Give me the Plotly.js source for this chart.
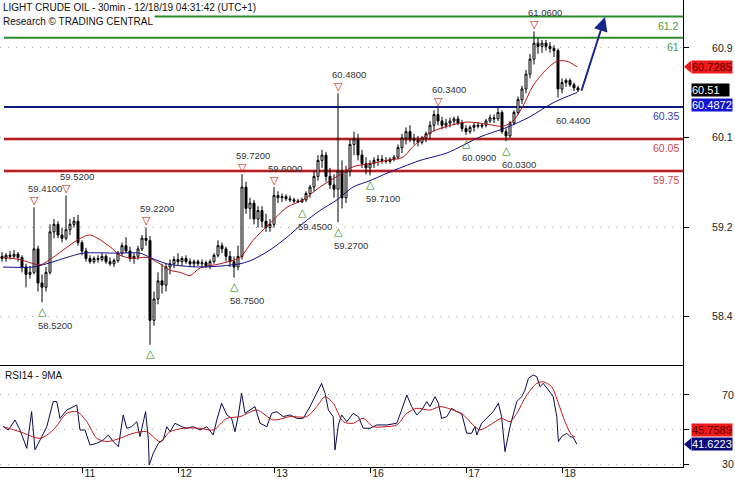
<!DOCTYPE html>
<html><head><meta charset="utf-8">
<script src="https://cdn.plot.ly/plotly-3.0.1.min.js"></script>
<style>html,body{margin:0;padding:0;background:#fff}#chart{width:735px;height:480px}</style>
</head><body><div id="chart"></div>
<script>
// ---- time axis (hours relative to Dec 11 00:00, weekend removed) ----
const firstBarHour = -20;
const dayTickHours = [0, 24, 48, 72, 96, 120];
const dayTickLabels = ['11', '12', '13', '16', '17', '18'];

// ---- hourly OHLC ----
const openP = [58.95,58.93,58.96,58.95,58.97,58.94,58.85,58.78,58.80,59.02,58.70,58.66,58.80,59.18,59.25,59.15,59.12,59.20,59.25,59.28,
59.08,59.00,58.93,58.90,58.93,58.92,58.95,58.90,58.88,58.91,58.98,59.05,59.00,58.93,58.95,59.02,59.12,59.10,58.35,58.55,
58.72,58.68,58.85,58.88,58.92,58.90,58.93,58.90,58.88,58.90,58.88,58.89,58.86,58.90,58.96,59.05,59.02,58.95,58.90,58.85,
58.95,59.60,59.40,59.45,59.30,59.38,59.28,59.22,59.25,59.52,59.50,59.51,59.49,59.48,59.47,59.46,59.48,59.54,59.60,59.70,
59.85,59.90,59.70,59.62,59.58,59.75,59.50,59.75,60.00,60.05,59.90,59.82,59.78,59.82,59.85,59.86,59.85,59.84,59.86,59.88,
59.97,60.06,60.12,60.05,60.04,60.02,60.06,60.10,60.18,60.28,60.22,60.18,60.20,60.22,60.24,60.20,60.15,60.12,60.16,60.18,
60.17,60.18,60.22,60.25,60.24,60.30,60.12,60.08,60.20,60.30,60.42,60.52,60.66,60.80,60.95,60.92,60.95,60.92,60.90,60.88,
60.52,60.58,60.60,60.56,60.53];
const highP = [58.99,58.98,59.00,59.01,58.99,58.96,58.88,58.86,59.41,59.05,58.78,58.85,59.25,59.30,59.28,59.22,59.52,59.30,59.32,59.34,
59.10,59.03,58.96,58.95,58.96,58.98,58.97,58.94,58.93,59.00,59.08,59.13,59.04,58.98,59.05,59.15,59.22,59.14,58.62,58.80,
58.88,58.88,58.92,58.95,58.98,58.95,58.96,58.93,58.92,58.92,58.92,58.91,58.92,58.98,59.10,59.08,59.04,59.00,58.95,59.05,
59.72,59.65,59.50,59.48,59.42,59.42,59.35,59.30,59.60,59.56,59.54,59.53,59.52,59.50,59.49,59.50,59.56,59.62,59.75,59.90,
59.95,59.93,59.78,59.72,60.48,59.85,59.80,60.05,60.12,60.10,59.95,59.88,59.85,59.88,59.90,59.90,59.88,59.88,59.90,60.00,
60.10,60.16,60.18,60.10,60.08,60.08,60.12,60.22,60.32,60.34,60.26,60.24,60.25,60.26,60.27,60.23,60.18,60.18,60.20,60.21,
60.20,60.24,60.28,60.28,60.35,60.32,60.15,60.22,60.32,60.45,60.55,60.70,60.85,61.06,61.00,60.98,60.98,60.96,60.93,60.90,
60.62,60.62,60.62,60.58,60.55];
const lowP = [58.90,58.90,58.92,58.93,58.90,58.80,58.66,58.74,58.78,58.62,58.52,58.62,58.78,59.12,59.12,59.08,59.10,59.15,59.22,59.05,
58.96,58.90,58.88,58.88,58.89,58.90,58.88,58.86,58.85,58.89,58.95,58.98,58.90,58.88,58.92,59.00,59.05,58.12,58.30,58.50,
58.60,58.62,58.78,58.84,58.86,58.86,58.88,58.85,58.85,58.86,58.84,58.84,58.83,58.88,58.94,58.98,58.90,58.85,58.75,58.82,
58.92,59.35,59.30,59.25,59.22,59.22,59.18,59.18,59.22,59.45,59.46,59.47,59.46,59.45,59.45,59.45,59.46,59.50,59.56,59.66,
59.78,59.65,59.58,59.50,59.27,59.40,59.45,59.70,59.90,59.85,59.78,59.72,59.71,59.78,59.80,59.82,59.82,59.82,59.84,59.86,
59.92,60.00,60.02,60.00,59.98,60.00,60.02,60.05,60.12,60.18,60.14,60.15,60.16,60.18,60.18,60.12,60.09,60.10,60.12,60.15,
60.15,60.16,60.20,60.20,60.22,60.10,60.03,60.06,60.18,60.28,60.38,60.48,60.62,60.75,60.85,60.86,60.88,60.86,60.82,60.44,
60.48,60.54,60.54,60.50,60.49];
const closeP = [58.93,58.96,58.95,58.97,58.94,58.85,58.78,58.80,59.02,58.70,58.66,58.80,59.18,59.25,59.15,59.12,59.20,59.25,59.28,59.08,
59.00,58.93,58.90,58.93,58.92,58.95,58.90,58.88,58.91,58.98,59.05,59.00,58.93,58.95,59.02,59.12,59.10,58.35,58.55,58.72,
58.68,58.85,58.88,58.92,58.90,58.93,58.90,58.88,58.90,58.88,58.89,58.86,58.90,58.96,59.05,59.02,58.95,58.90,58.85,58.95,
59.60,59.40,59.45,59.30,59.38,59.28,59.22,59.25,59.52,59.50,59.51,59.49,59.48,59.47,59.46,59.48,59.54,59.60,59.70,59.85,
59.90,59.70,59.62,59.58,59.75,59.50,59.75,60.00,60.05,59.90,59.82,59.78,59.82,59.85,59.86,59.85,59.84,59.86,59.88,59.97,
60.06,60.12,60.05,60.04,60.02,60.06,60.10,60.18,60.28,60.22,60.18,60.20,60.22,60.24,60.20,60.15,60.12,60.16,60.18,60.17,
60.18,60.22,60.25,60.24,60.30,60.12,60.08,60.20,60.30,60.42,60.52,60.66,60.80,60.95,60.92,60.95,60.92,60.90,60.88,60.52,
60.58,60.60,60.56,60.53,60.51];

// ---- moving averages (traced) ----
const maFastHours = [-19.75,-15.5,-10.5,-8,-1.25,2,7,9.5,12.75,16.25,19.5,22,24.5,27,29.5,34.5,39.5,42.75,47,51.25,55.25,59.5,63.75,67.75,72,76.25,80.25,82.75,87,91.25,96.25,101.25,105.25,107.75,110.25,112.75,116.25,118.75,121.25,123.75];
const maFastVals = [58.94,58.92,58.87,58.92,59.10,59.15,59.04,58.96,58.93,58.94,58.88,58.82,58.80,58.77,58.84,58.88,58.94,59.10,59.26,59.41,59.48,59.60,59.70,59.79,59.82,59.85,59.88,59.98,60.11,60.17,60.21,60.19,60.17,60.22,60.36,60.55,60.71,60.78,60.78,60.7285];
const maSlowHours = [-19.75,-12.25,-8,-3.75,0.25,8.75,14.5,17,21.25,29.5,39.5,42.75,47,51.25,55.25,59.5,63.75,67.75,72,76.25,80.25,84.5,91.25,99.5,106.25,112,117.75,123.75];
const maSlowVals = [58.85,58.85,58.89,58.94,58.98,58.98,58.98,58.94,58.88,58.85,58.88,58.92,59.01,59.13,59.26,59.38,59.48,59.60,59.66,59.73,59.79,59.85,59.92,60.07,60.16,60.26,60.39,60.4872];

// ---- RSI14 and its 9MA (traced) ----
const rsiHours = [-19.7,-18.4,-16.75,-15.5,-13.8,-12.6,-11.75,-10.5,-8.8,-7.2,-6.3,-5.5,-3.8,-1.3,-0.5,0.75,2,3.7,5.3,6.6,7.8,9.1,10.3,11.2,12.4,13.7,14.5,15.9,16.6,16.8,17.8,19.1,20.3,21.2,22,23.25,24.9,26.2,27.8,29.5,31.2,32.8,33.7,34.9,36.2,37.4,38.25,39.1,39.9,40.75,42,43.25,44.5,46.2,47.4,48.7,50.3,52,53.7,55.3,57,58.7,59.9,60.75,61.6,62.8,63.25,64.1,64.9,66.2,67.8,69.1,70.3,72,73.7,76.2,78.7,79.9,81.2,82.4,83.7,84.9,86.2,87,88.25,89.1,89.9,91.2,92.4,93.7,94.9,96.2,97.4,98.25,98.7,99.9,101.6,102.8,104.1,104.9,105.75,107,108.7,109.9,110.75,111.6,112.8,113.7,114.5,115.3,116.6,117.8,118.7,119.1,119.9,121.2,122,122.8,123.7];
const rsiVals = [51.7,49.8,55.6,49.8,39.2,60.4,38.3,44.0,51.7,66.2,66.2,56.5,61.3,64.2,49.8,49.8,41.1,42.1,44.0,46.9,43.1,40.2,58.5,50.8,51.7,54.6,46.0,60.4,44.0,29.6,36.3,42.1,44.0,51.7,48.8,53.7,51.7,50.8,51.7,49.8,51.7,46.9,55.6,65.2,58.5,56.5,48.8,58.5,71.0,59.4,61.3,63.3,53.7,51.7,59.4,60.4,57.5,58.5,56.5,56.5,63.3,71.0,76.7,71.0,61.3,57.5,38.3,52.7,58.5,54.6,59.4,57.5,50.8,50.8,52.7,52.7,53.7,61.3,70.0,63.3,58.5,61.3,66.2,63.3,69.0,65.2,56.5,57.5,62.3,60.4,59.4,47.9,47.9,51.7,46.9,53.7,57.5,60.4,65.2,57.5,37.3,51.7,66.2,69.0,72.9,79.6,81.5,80.6,74.8,76.7,72.9,69.0,57.5,43.1,46.0,47.9,46.0,45.6,41.6223];
const rsiMaHours = [-19.7,-15.5,-10.5,-7.2,-3.8,-1.3,1.2,3.7,6.2,9.5,12.8,16.2,19.5,22,25.3,29.5,32.8,36.2,39.5,43.7,47.8,52,56.2,58.7,60.75,62.8,65.3,67.8,70.3,72.8,75.8,78.7,81.2,83.7,87,89.5,92.8,95.3,97.8,99.5,102,104.9,107,108.7,111.2,113.7,115.3,117.4,119.1,120.75,122.4,123.3];
const rsiMaVals = [51.7,48.8,45.0,49.8,59.4,60.4,54.6,45.0,43.1,45.0,47.9,48.8,43.1,48.8,50.8,50.8,49.8,56.5,57.5,61.3,55.6,57.5,57.5,63.3,69.0,65.2,54.6,53.7,56.5,51.7,51.7,52.7,59.4,62.3,61.3,63.3,61.3,58.5,52.7,49.8,52.7,56.5,54.6,59.4,70.0,76.7,77.6,74.8,65.2,54.6,46.9,45.7589];

// ---- support / resistance levels ----
const levelValues = [61.2, 61.0, 60.35, 60.05, 59.75];
const levelText = ['61.2', '61', '60.35', '60.05', '59.75'];
const levelKind = ['res', 'res', 'pivot', 'sup', 'sup'];

// ---- pivot markers ----
const pivotHours = [-12, -10, -4, 16, 17, 38, 40, 48, 55, 64, 64, 72, 89, 96, 106, 113, 119];
const pivotPrices = [59.41, 58.52, 59.52, 59.22, 58.12, 58.75, 59.72, 59.60, 59.45, 60.48, 59.27, 59.71, 60.34, 60.09, 60.03, 61.06, 60.44];
const pivotKind = ['H','L','H','H','L','L','H','H','L','H','L','L','H','L','L','H','L'];
const pivotText = ['59.4100','58.5200','59.5200','59.2200','','58.7500','59.7200','59.6000','59.4500','60.4800','59.2700','59.7100','60.3400','60.0900','60.0300','61.0600','60.4400'];
const pivotMarker = [1,1,1,1,1,1,1,1,1,1,1,1,1,1,1,1,0];

// ---- axis ticks ----
const priceTickVals = [58.385, 59.225, 60.065, 60.905];
const priceTickText = ['58.4', '59.2', '60.1', '60.9'];
const rsiTickVals = [30, 50, 70];
const rsiTickText = ['30', '', '70'];   // the 50 label sits under the RSI-MA value box

// ---- current values ----
const lastClose = 60.51;
const lastMaFast = 60.7285, lastMaSlow = 60.4872;
const lastRsiMa = 45.7589, lastRsi = 41.6223;
const arrowFrom = [124.75, 60.49], arrowTo = [130.75, 61.195];

const barHours = openP.map((_, i) => firstBarHour + i);
const FONT = 'Liberation Sans, Arial, sans-serif';

const traces = [
  {type:'candlestick', x:barHours, open:openP, high:highP, low:lowP, close:closeP, xaxis:'x', yaxis:'y',
   increasing:{line:{color:'#000', width:1}, fillcolor:'#ffffff'},
   decreasing:{line:{color:'#000', width:1}, fillcolor:'#000000'},
   whiskerwidth:0, hoverinfo:'skip'},
  {type:'scatter', mode:'lines', x:maFastHours, y:maFastVals, xaxis:'x', yaxis:'y',
   line:{color:'#b41414', width:1, shape:'spline', smoothing:0.8}, hoverinfo:'skip'},
  {type:'scatter', mode:'lines', x:maSlowHours, y:maSlowVals, xaxis:'x', yaxis:'y',
   line:{color:'#10108c', width:1, shape:'spline', smoothing:0.8}, hoverinfo:'skip'},
  {type:'scatter', mode:'lines', x:rsiHours, y:rsiVals, xaxis:'x', yaxis:'y2',
   line:{color:'#0a0a50', width:1}, hoverinfo:'skip'},
  {type:'scatter', mode:'lines', x:rsiMaHours, y:rsiMaVals, xaxis:'x', yaxis:'y2',
   line:{color:'#c01818', width:1, shape:'spline', smoothing:0.8}, hoverinfo:'skip'}
];

const levelColor = {res:'#2e8b2e', pivot:'#0c1a80', sup:'#b22222'};
const levelTextColor = {res:'#4a9a4a', pivot:'#3a3aa0', sup:'#d04848'};
const shapes = [];
const annotations = [];
levelValues.forEach((v, i) => {
  const k = levelKind[i];
  if (k === 'sup') {
    shapes.push({type:'line', xref:'x', yref:'y', x0:firstBarHour + 0.5, x1:150.25, y0:v, y1:v, layer:'below',
      line:{color:'#f2b4b4', width:4}});
  }
  shapes.push({type:'line', xref:'x', yref:'y', x0:firstBarHour + 0.5, x1:150.25, y0:v, y1:v, layer:'below',
    line:{color:levelColor[k], width:2}});
  annotations.push({xref:'paper', yref:'y', x:1, y:v, xanchor:'right', yanchor:'top', xshift:-2, yshift:-1,
    text:levelText[i], showarrow:false, font:{family:FONT, size:10.5, color:levelTextColor[k]}});
});

pivotHours.forEach((h, i) => {
  const hi = pivotKind[i] === 'H';
  if (pivotMarker[i]) {
    annotations.push({xref:'x', yref:'y', x:h, y:pivotPrices[i], text: hi ? '▽' : '△', showarrow:false,
      yanchor:'middle', xanchor:'center', yshift: hi ? 7 : -9,
      font:{family:'DejaVu Sans', size:11, color: hi ? '#d02020' : '#208a20'}});
  }
  if (pivotText[i]) {
    annotations.push({xref:'x', yref:'y', x:h, y:pivotPrices[i], text:pivotText[i], showarrow:false,
      yanchor:'middle', xanchor:'center', yshift: hi ? 19 : -23, xshift: hi ? 11 : (pivotMarker[i] ? 13 : 15),
      font:{family:FONT, size:9.5, color:'#333'}});
  }
});

// titles
annotations.push({xref:'paper', yref:'paper', x:0, y:1, xanchor:'left', yanchor:'top', xshift:1, yshift:0,
  text:'LIGHT CRUDE OIL - 30min - 12/18/19 04:31:42 (UTC+1)', showarrow:false, bgcolor:'#fff', borderpad:1,
  font:{family:FONT, size:10, color:'#111'}});
annotations.push({xref:'paper', yref:'paper', x:0, y:1, xanchor:'left', yanchor:'top', xshift:1, yshift:-14,
  text:'Research © TRADING CENTRAL', showarrow:false, bgcolor:'#fff', borderpad:1,
  font:{family:FONT, size:10, color:'#111'}});
annotations.push({xref:'paper', yref:'y2 domain', x:0, y:1, xanchor:'left', yanchor:'top', xshift:3, yshift:-2,
  text:'RSI14 - 9MA', showarrow:false, font:{family:FONT, size:10, color:'#111'}});

// trend arrow
annotations.push({xref:'x', yref:'y', axref:'x', ayref:'y', x:arrowTo[0], y:arrowTo[1], ax:arrowFrom[0], ay:arrowFrom[1],
  text:'', showarrow:true, arrowhead:2, arrowsize:1.4, arrowwidth:2, arrowcolor:'#18288a', standoff:0});

// value boxes on the right
function box(yref, val, text, bg, fg, yshift) {
  annotations.push({xref:'paper', yref:yref, x:1, y:val, xanchor:'left', yanchor:'middle', xshift:8, yshift:yshift || 0,
    text:text, showarrow:false, bgcolor:bg, borderpad:0, font:{family:FONT, size:11, color:fg}});
}
box('y', lastMaFast, lastMaFast.toFixed(4), '#ee1a1a', '#5a0000');
box('y', lastClose, lastClose.toFixed(2) + '   ', '#000000', '#ffffff');
box('y', lastMaSlow, lastMaSlow.toFixed(4), '#1414d2', '#ffffff', -13);
box('y2', lastRsiMa, lastRsiMa.toFixed(4), '#ee1a1a', '#5a0000', 7);
box('y2', lastRsi, lastRsi.toFixed(4), '#0a0a78', '#ffffff');
function pointer(yref, val, color) {
  shapes.push({type:'path', xref:'paper', yref:yref, xsizemode:'pixel', ysizemode:'pixel', xanchor:1, yanchor:val,
    path:'M1,0 L8,6 L8,-6 Z', fillcolor:color, line:{width:0}});
}
pointer('y', lastMaFast, '#ee1a1a');
pointer('y2', lastRsi, '#0a0a78');

const layout = {
  width:735, height:480,
  margin:{l:0, r:52, t:0, b:13, pad:0},
  paper_bgcolor:'#fff', plot_bgcolor:'#fff', showlegend:false,
  font:{family:FONT, size:10, color:'#222'},
  xaxis:{range:[-20.5, 150.25], anchor:'y2', showline:true, linecolor:'#000', linewidth:1, mirror:true,
    ticks:'outside', ticklen:5, tickcolor:'#000', tickvals:dayTickHours, ticktext:dayTickLabels,
    showgrid:false, zeroline:false, rangeslider:{visible:false}, ticklabelshift:8, ticklabelstandoff:-9,
    automargin:false, tickfont:{size:10.5, color:'#222'}},
  yaxis:{domain:[0.2163, 1], range:[57.9214, 61.3548], side:'right', anchor:'x', tickvals:priceTickVals, ticktext:priceTickText,
    ticks:'outside', ticklen:5, tickcolor:'#000', showline:true, linecolor:'#000', linewidth:1,
    showgrid:true, gridcolor:'#b4b4b4', griddash:'1px,7px', zeroline:false, ticklabelstandoff:21, automargin:false,
    tickfont:{size:10.5, color:'#222'}},
  yaxis2:{domain:[0, 0.2163], range:[28.44, 86.74], side:'right', anchor:'x', tickvals:rsiTickVals, ticktext:rsiTickText,
    ticks:'outside', ticklen:5, tickcolor:'#000', showline:true, linecolor:'#000', linewidth:1,
    showgrid:true, gridcolor:'#b4b4b4', griddash:'1px,7px', zeroline:false, ticklabelstandoff:31, automargin:false,
    tickfont:{size:10.5, color:'#222'}},
  shapes:shapes, annotations:annotations
};
Plotly.newPlot('chart', traces, layout, {staticPlot:true, displayModeBar:false});
</script></body></html>
